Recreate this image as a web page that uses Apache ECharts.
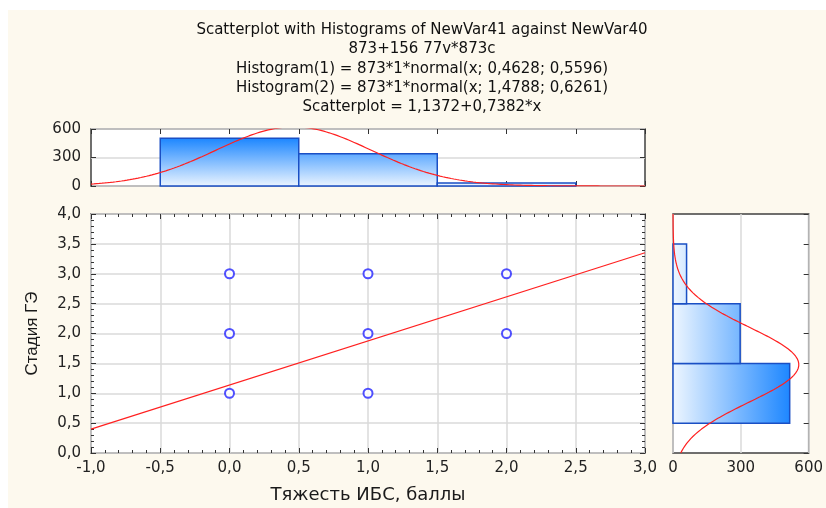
<!DOCTYPE html>
<html>
<head>
<meta charset="utf-8">
<style>
    html, body { margin: 0; padding: 0; background: #fff; }
    #chart { width: 826px; height: 508px; }
</style>
<script src="https://cdn.jsdelivr.net/npm/echarts@6/dist/echarts.min.js"></script>
</head>
<body>
<div id="chart"></div>
<script>
    // данные
    var N = 873;
    var scatterPoints = [[0, 1], [0, 2], [0, 3], [1, 1], [1, 2], [1, 3], [2, 2], [2, 3]];
    // гистограмма по X (Тяжесть ИБС): центры и частоты
    var histXCenters = [0, 1, 2];
    var histXCounts = [502, 340, 31];
    // гистограмма по Y (Стадия ГЭ)
    var histYCenters = [1, 2, 3];
    var histYCounts = [516, 297, 60];
    // параметры подгонки из заголовка
    var fitX = { mean: 0.4628, sd: 0.5596 };
    var fitY = { mean: 1.4788, sd: 0.6261 };
    var regA = 1.1372, regB = 0.7382;
    var titleLines = [
        'Scatterplot with Histograms of NewVar41 against NewVar40',
        '873+156 77v*873c',
        'Histogram(1) = 873*1*normal(x; 0,4628; 0,5596)',
        'Histogram(2) = 873*1*normal(x; 1,4788; 0,6261)',
        'Scatterplot = 1,1372+0,7382*x'
    ];
    var titleY = [30, 49.5, 69, 88.5, 107];

    function normCount(x, fit) {
        var z = (x - fit.mean) / fit.sd;
        return N * Math.exp(-0.5 * z * z) / (fit.sd * Math.sqrt(2 * Math.PI));
    }
    function comma(v) { return v.toFixed(1).replace('.', ','); }

    var curveX = [], curveY = [];
    for (var i = 0; i <= 200; i++) {
        var x = -1 + i * 0.02;
        curveX.push([x, normCount(x, fitX)]);
        var y = i * 0.02;
        curveY.push([normCount(y, fitY), y]);
    }
    var histXData = histXCenters.map(function (c, k) { return [c - 0.5, c + 0.5, histXCounts[k]]; });
    var histYData = histYCenters.map(function (c, k) { return [c - 0.5, c + 0.5, histYCounts[k]]; });

    var font = 'DejaVu Sans';
    var labelStyle = { color: '#222', fontSize: 15, fontFamily: font };
    var gridLine = { show: true, lineStyle: { color: '#dadada', width: 1.5 } };
    var noLine = { show: false, onZero: false };
    var tick = { inside: true, length: 5, lineStyle: { color: '#333' } };
    var minor = { show: true, splitNumber: 5, length: 3, lineStyle: { color: '#333' } };

    var gradTop = { type: 'linear', x: 0, y: 138, x2: 0, y2: 186, global: true,
        colorStops: [{ offset: 0, color: '#1c86ff' }, { offset: 1, color: '#eaf4ff' }] };
    var gradRight = { type: 'linear', x: 675, y: 0, x2: 791, y2: 0, global: true,
        colorStops: [{ offset: 0, color: '#eaf4ff' }, { offset: 1, color: '#1c86ff' }] };

    var titles = titleLines.map(function (t, k) {
        return {
            type: 'text', x: 422, y: titleY[k],
            style: { text: t, fill: '#111', font: '15px "' + font + '"', textAlign: 'center', textVerticalAlign: 'middle' }
        };
    });

    var option = {
        backgroundColor: '#fff',
        animation: false,
        graphic: [
            { type: 'rect', z: -10, shape: { x: 8, y: 10, width: 830, height: 510 }, style: { fill: '#fdf9ee' } }
        ].concat(titles),
        grid: [
            { left: 91, top: 129, width: 554, height: 57, show: true, backgroundColor: '#fff', borderColor: '#404040', borderWidth: 1.5 },
            { left: 91, top: 214, width: 554, height: 239, show: true, backgroundColor: '#fff', borderColor: '#404040', borderWidth: 1.5 },
            { left: 673, top: 214, width: 136, height: 239, show: true, backgroundColor: '#fff', borderColor: '#404040', borderWidth: 1.5 }
        ],
        xAxis: [
            { gridIndex: 0, type: 'value', min: -1, max: 3, interval: 0.5, position: 'bottom',
                axisLine: noLine, axisLabel: { show: false }, splitLine: { show: false }, axisTick: tick },
            { gridIndex: 0, type: 'value', min: -1, max: 3, interval: 0.5, position: 'top',
                axisLine: noLine, axisLabel: { show: false }, splitLine: { show: false }, axisTick: tick },
            { gridIndex: 1, type: 'value', min: -1, max: 3, interval: 0.5, position: 'bottom',
                name: 'Тяжесть ИБС, баллы', nameLocation: 'middle', nameGap: 33,
                nameTextStyle: { color: '#1a1a1a', fontSize: 18, fontFamily: font },
                axisLine: noLine, splitLine: gridLine,
                axisLabel: Object.assign({ margin: 8, formatter: comma }, labelStyle),
                axisTick: tick, minorTick: minor },
            { gridIndex: 1, type: 'value', min: -1, max: 3, interval: 0.5, position: 'top',
                axisLine: noLine, axisLabel: { show: false }, splitLine: { show: false },
                axisTick: tick, minorTick: minor },
            { gridIndex: 2, type: 'value', min: 0, max: 600, interval: 300, position: 'bottom',
                axisLine: noLine, axisTick: { show: false }, splitLine: gridLine,
                axisLabel: Object.assign({ margin: 8 }, labelStyle) }
        ],
        yAxis: [
            { gridIndex: 0, type: 'value', min: 0, max: 600, interval: 300, position: 'left',
                axisLine: noLine, splitLine: gridLine,
                axisLabel: Object.assign({ margin: 10 }, labelStyle), axisTick: tick },
            { gridIndex: 0, type: 'value', min: 0, max: 600, interval: 300, position: 'right',
                axisLine: noLine, axisLabel: { show: false }, splitLine: { show: false }, axisTick: tick },
            { gridIndex: 1, type: 'value', min: 0, max: 4, interval: 0.5, position: 'left',
                name: 'Стадия ГЭ', nameLocation: 'middle', nameGap: 50,
                nameTextStyle: { color: '#1a1a1a', fontSize: 17, fontFamily: 'Liberation Sans' },
                axisLine: noLine, splitLine: gridLine,
                axisLabel: Object.assign({ margin: 10, formatter: comma }, labelStyle),
                axisTick: tick, minorTick: minor },
            { gridIndex: 1, type: 'value', min: 0, max: 4, interval: 0.5, position: 'right',
                axisLine: noLine, axisLabel: { show: false }, splitLine: { show: false },
                axisTick: tick, minorTick: minor },
            { gridIndex: 2, type: 'value', min: 0, max: 4, interval: 0.5, position: 'right',
                axisLine: noLine, axisLabel: { show: false }, splitLine: { show: false }, axisTick: tick }
        ],
        series: [
            {
                type: 'custom', xAxisIndex: 0, yAxisIndex: 0, data: histXData,
                encode: { x: [0, 1], y: 2 },
                renderItem: function (params, api) {
                    var a = api.coord([api.value(0), api.value(2)]);
                    var b = api.coord([api.value(1), 0]);
                    return { type: 'rect', shape: { x: a[0], y: a[1], width: b[0] - a[0], height: b[1] - a[1] },
                        style: { fill: gradTop, stroke: '#1a4fc4', lineWidth: 1.5 } };
                }
            },
            {
                type: 'line', xAxisIndex: 0, yAxisIndex: 0, data: curveX, showSymbol: false,
                lineStyle: { color: '#ff2020', width: 1.2 }, clip: true
            },
            {
                type: 'line', xAxisIndex: 2, yAxisIndex: 2, showSymbol: false,
                data: [[-1, regA + regB * -1], [3, regA + regB * 3]],
                lineStyle: { color: '#ff2020', width: 1.2 }
            },
            {
                type: 'scatter', xAxisIndex: 2, yAxisIndex: 2, data: scatterPoints,
                symbol: 'emptyCircle', symbolSize: 9,
                itemStyle: { color: '#2424ff', borderWidth: 1.3 }
            },
            {
                type: 'custom', xAxisIndex: 4, yAxisIndex: 4, data: histYData,
                encode: { x: 2, y: [0, 1] },
                renderItem: function (params, api) {
                    var a = api.coord([api.value(2), api.value(1)]);
                    var b = api.coord([0, api.value(0)]);
                    return { type: 'rect', shape: { x: b[0], y: a[1], width: a[0] - b[0], height: b[1] - a[1] },
                        style: { fill: gradRight, stroke: '#1a4fc4', lineWidth: 1.5 } };
                }
            },
            {
                type: 'line', xAxisIndex: 4, yAxisIndex: 4, data: curveY, showSymbol: false,
                lineStyle: { color: '#ff2020', width: 1.2 }, clip: true
            }
        ]
    };

    var chart = echarts.init(document.getElementById('chart'));
    chart.setOption(option);
</script>
</body>
</html>
